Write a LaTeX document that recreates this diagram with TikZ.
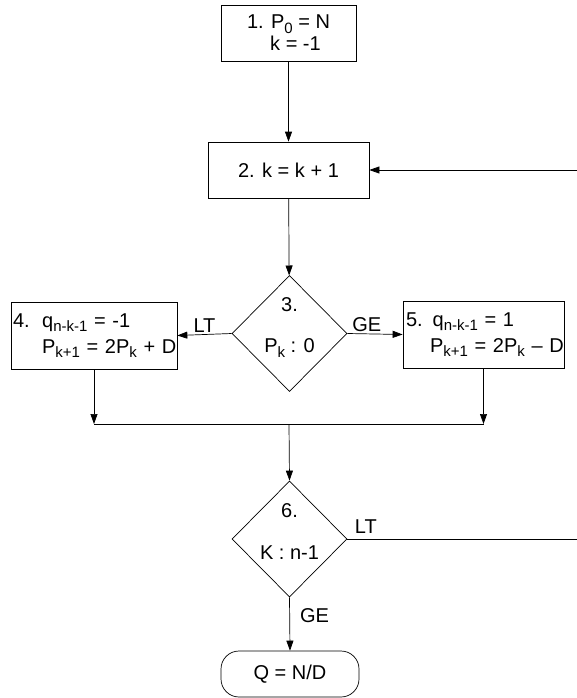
\documentclass[tikz,border=0pt]{standalone}
\usepackage{fontspec}
\setmainfont{Liberation Sans}
\usetikzlibrary{arrows.meta,shapes.geometric,positioning}
\newcommand{\sbs}[1]{\raisebox{-4.5pt}{\fontsize{15}{15}\selectfont #1}}

\begin{document}
\begin{tikzpicture}[
  x=1pt,y=-1pt,
  font=\fontsize{20}{22}\selectfont,>={Triangle[length=10pt,width=7pt]},
  line width=0.7pt,
  proc/.style={draw, rectangle, inner sep=1pt},
  dec/.style={draw, diamond, inner sep=0pt, minimum width=115pt, minimum height=116pt},
  dectext/.style={align=center, inner sep=0pt},
  term/.style={draw, rounded corners=18pt, minimum width=138pt, minimum height=46pt},
  lbl/.style={inner sep=2pt},
]
\useasboundingbox (0,0) rectangle (577,698);
% process boxes
\node[proc, minimum width=135pt, minimum height=56pt, align=center] (b1) at (288.5,33)
  {1. P\sbs{0} = N\\\hspace*{14pt}k = -1};
\node[proc, minimum width=161pt, minimum height=56pt] (b2) at (288.5,170) {2. k = k + 1};
% first test
\node[dec] (d3) at (289.5,333.5) {};
\node[dectext] (d3t) at ([yshift=6pt]d3.center) {3.\\[19pt]P\sbs{k} : 0};
\node[proc, minimum width=166pt, minimum height=67pt, text width=162pt, align=left] (b4) at (94,335.5)
  {\mbox{4.\hspace{12.5pt}q\sbs{n-k-1} = -1}\\[4pt]\mbox{\hspace*{29pt}P\sbs{k+1} = 2P\sbs{k} + D}};
\node[proc, minimum width=161pt, minimum height=67pt, text width=155pt, align=left] (b5) at (483.5,334.5)
  {\mbox{5. q\sbs{n-k-1} = 1}\\[4pt]\mbox{\hspace*{24pt}P\sbs{k+1} = 2P\sbs{k} – D}};
% second test and result
\node[dec] (d6) at (289.5,539) {};
\node[dectext] (d6t) at ([yshift=7pt]d6.center) {6.\\[20pt]K : n-1};
\node[term] (res) at (290,674) {Q = N/D};
\coordinate (jn) at (289,424);
\coordinate (rt) at (579,0);
% connectors
\draw[->] (b1) -- (b2);
\draw[->] (b2) -- (d3);
\draw[->] (d3.west) -- node[lbl, above]{LT} (b4.east);
\draw[->] (d3.east) -- node[lbl, above, pos=0.35]{GE} (b5.west);
\draw[->] (b4.south) -- (b4.south |- jn);
\draw[->] (b5.south) -- (b5.south |- jn);
\draw (b4.south |- jn) -- (b5.south |- jn);
\draw[->] (jn) -- (d6.north);
\draw[->] (d6.south) -- node[lbl, right, xshift=8pt, pos=0.35]{GE} (res.north);
\draw[->] (d6.east) -- node[lbl, above, pos=0.08, yshift=3pt]{LT} (d6.east -| rt) -- (b2.east -| rt) -- (b2.east);
\end{tikzpicture}
\end{document}
